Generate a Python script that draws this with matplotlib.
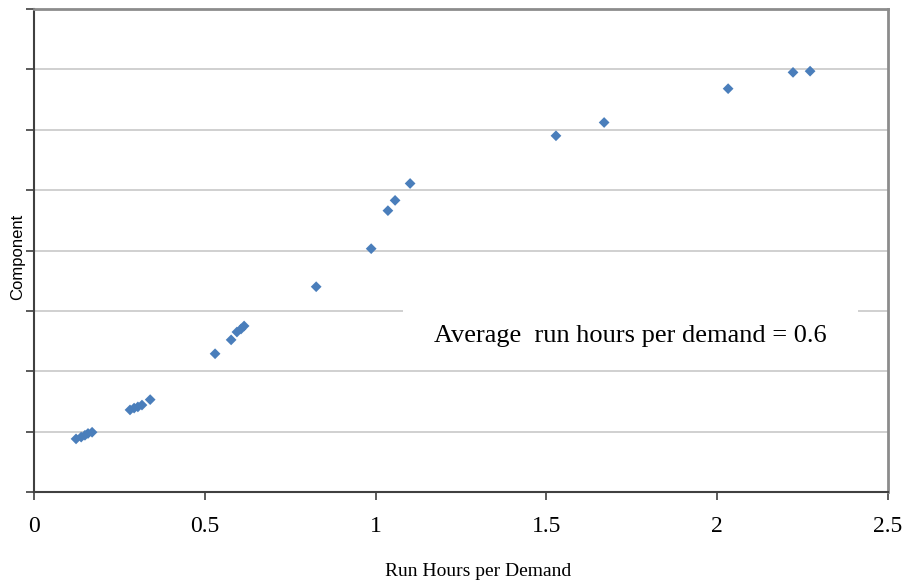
import matplotlib.pyplot as plt
from matplotlib.patches import Rectangle

# run hours per demand, one point per component (sorted)
run_hours = [0.123, 0.138, 0.149, 0.158, 0.170,
             0.281, 0.293, 0.304, 0.316, 0.340,
             0.530, 0.577, 0.594, 0.606, 0.615,
             0.826, 0.987, 1.036, 1.057, 1.101,
             1.528, 1.669, 2.032, 2.222, 2.272]
component = [0.88, 0.91, 0.94, 0.97, 0.99,
             1.36, 1.39, 1.41, 1.44, 1.53,
             2.29, 2.52, 2.65, 2.70, 2.75,
             3.40, 4.03, 4.66, 4.83, 5.11,
             5.90, 6.12, 6.68, 6.95, 6.97]
x_ticks = [0, 0.5, 1, 1.5, 2, 2.5]
x_labels = ['0', '0.5', '1', '1.5', '2', '2.5']
avg_text = 'Average  run hours per demand = 0.6'

serif = ['Liberation Serif', 'DejaVu Serif']

fig = plt.figure(figsize=(9.1, 5.87), dpi=100)
ax = fig.add_axes([0.0374, 0.1618, 0.9384, 0.8229])

ax.scatter(run_hours, component, marker='D', s=30, color='#4a7ebb',
           edgecolors='none', zorder=3)

ax.set_xlim(0, 2.5)
ax.set_ylim(0, 8)
ax.set_xticks(x_ticks)
ax.set_xticklabels(x_labels, fontfamily=serif, fontsize=17)
ax.set_yticks(range(0, 9))
ax.set_yticklabels([])
ax.yaxis.grid(True, color='#c8c8c8', linewidth=1.2)
ax.set_axisbelow(True)
ax.tick_params(axis='both', direction='out', length=6, width=1.2, color='#404040')
ax.tick_params(axis='x', pad=11)

for side in ['left', 'bottom']:
    ax.spines[side].set_color('#404040')
    ax.spines[side].set_linewidth(1.5)
for side in ['top', 'right']:
    ax.spines[side].set_color('#8c8c8c')
    ax.spines[side].set_linewidth(2)

ax.set_xlabel('Run Hours per Demand', fontfamily=serif, fontsize=14)
ax.xaxis.set_label_coords(0.52, -0.147)
ax.set_ylabel('Component', fontfamily='Liberation Sans', fontsize=12)
ax.yaxis.set_label_coords(-0.011, 0.487)

# white panel behind the average note hides the grid line
ax.add_patch(Rectangle((1.08, 2.1), 1.332, 1.08, facecolor='white',
                       edgecolor='none', zorder=2))
ax.text(1.171, 2.59, avg_text, fontfamily=serif, fontsize=19,
        va='center', ha='left', zorder=4)

fig.savefig('out.png', dpi=100)
